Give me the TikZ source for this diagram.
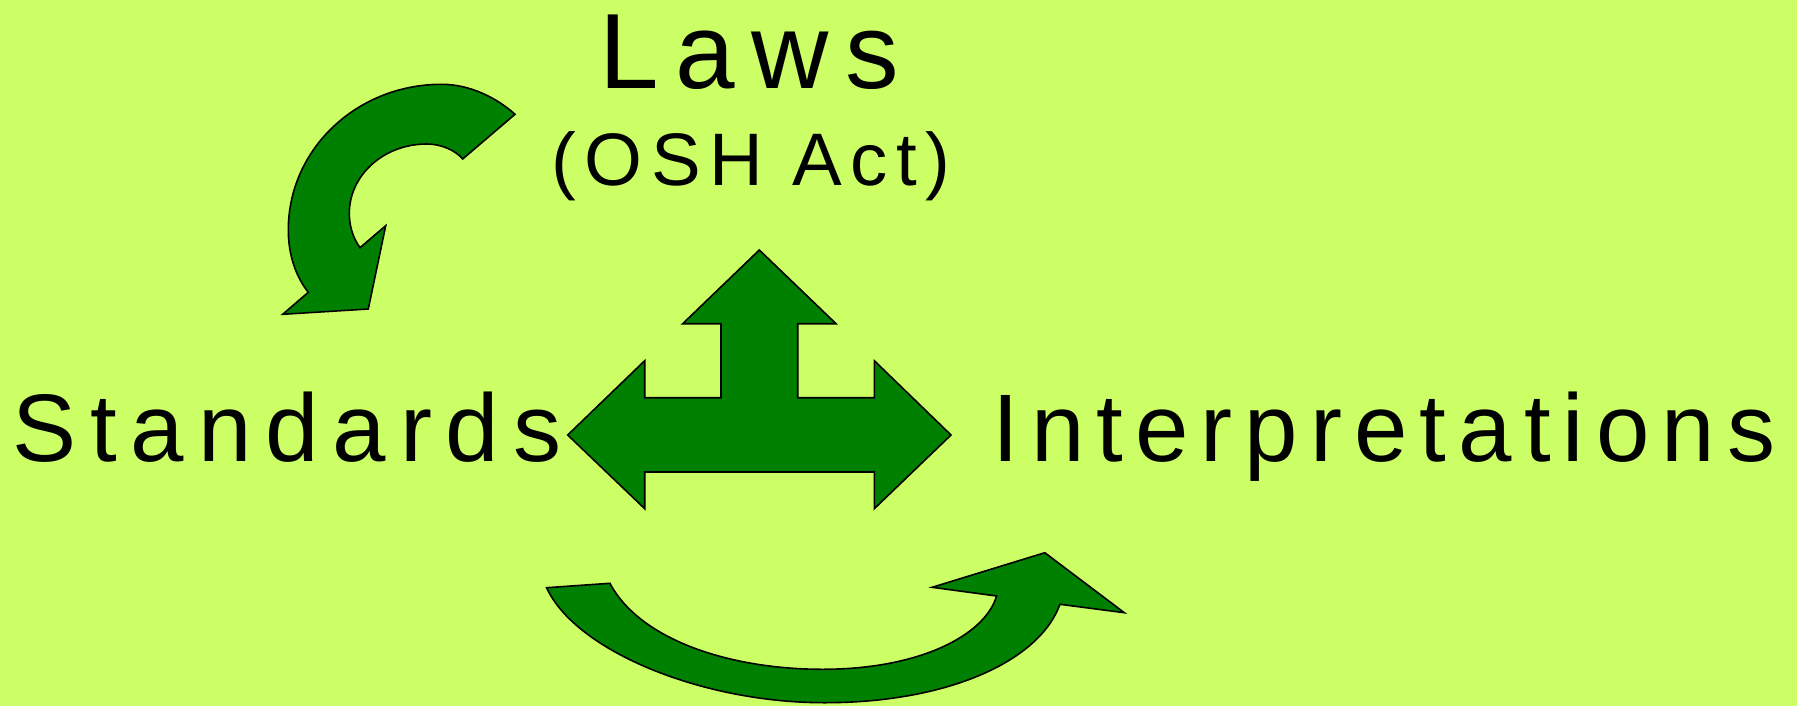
\documentclass[tikz,border=0pt]{standalone}
\usepackage{fontspec}
\setmainfont{Liberation Sans}[LetterSpace=12.6]
\newfontfamily\lawsfont{Liberation Sans}[LetterSpace=15.5]
\newfontfamily\actfont{Liberation Sans}[LetterSpace=11.5]
\newfontfamily\stdfont{Liberation Sans}[LetterSpace=14.5]
\definecolor{bggreen}{RGB}{204,255,102}
\definecolor{arrowgreen}{RGB}{0,128,0}
\tikzset{
  arrowshape/.style={fill=arrowgreen, draw=black, line width=0.8pt, line join=miter},
  label/.style={anchor=base west, inner sep=0pt}
}

\begin{document}
\begin{tikzpicture}[x=0.5pt,y=-0.5pt]
    \fill[bggreen] (0,0) rectangle (1797,706);
    \useasboundingbox (0,0) rectangle (1797,706);
    \node[label, font=\lawsfont\fontsize{53.5}{60}\selectfont] (laws) at (599.5,88.3) {Laws};
    \node[label, font=\actfont\fontsize{37.2}{42}\selectfont] (osh) at (551,185) {(OSH Act)};
    \node[label, font=\stdfont\fontsize{48}{54}\selectfont] (standards) at (12,461.7) {Standards};
    \node[label, font=\fontsize{48}{54}\selectfont] (interp) at (992,461.7) {Interpretations};
    % curved arrow down to Standards
    \draw[arrowshape] (515,114.3) .. controls (497,98) and (470,84.3) .. (441.7,84.3)
        .. controls (357,84.3) and (288.3,149) .. (288.3,230)
        .. controls (288.3,255) and (296,277) .. (308.3,292.3)
        -- (282.7,314.3) -- (368.3,309) -- (385.7,225.7) -- (360,247.7)
        .. controls (353,238) and (349.3,226) .. (349.3,213.3)
        .. controls (349.3,175) and (384,144) .. (426.7,144)
        .. controls (441,144) and (455,150) .. (462.7,159) -- cycle;
    % three way arrow
    \draw[arrowshape] (759.3,250) -- (836,323.7) -- (797.7,323.7) -- (797.7,397.7)
        -- (874.3,397.7) -- (874.3,360.7) -- (951,435) -- (874.3,508.7) -- (874.3,472)
        -- (644.7,472) -- (644.7,508.7) -- (567.7,435) -- (644.7,360.7) -- (644.7,397.7)
        -- (721,397.7) -- (721,323.7) -- (682.7,323.7) -- cycle;
    % curved arrow up to Interpretations
    \draw[arrowshape] (546.6,587.7) .. controls (575,650) and (700,702.7) .. (824.6,702.7)
        .. controls (950,702.7) and (1040,660) .. (1059.9,604.3)
        -- (1124.3,612.7) -- (1044.8,552.7) -- (932.1,587.3) -- (996.6,596)
        .. controls (985,635) and (920,669.3) .. (822.6,669.3)
        .. controls (730,669.3) and (640,640) .. (609.9,583.3) -- cycle;
\end{tikzpicture}
\end{document}
